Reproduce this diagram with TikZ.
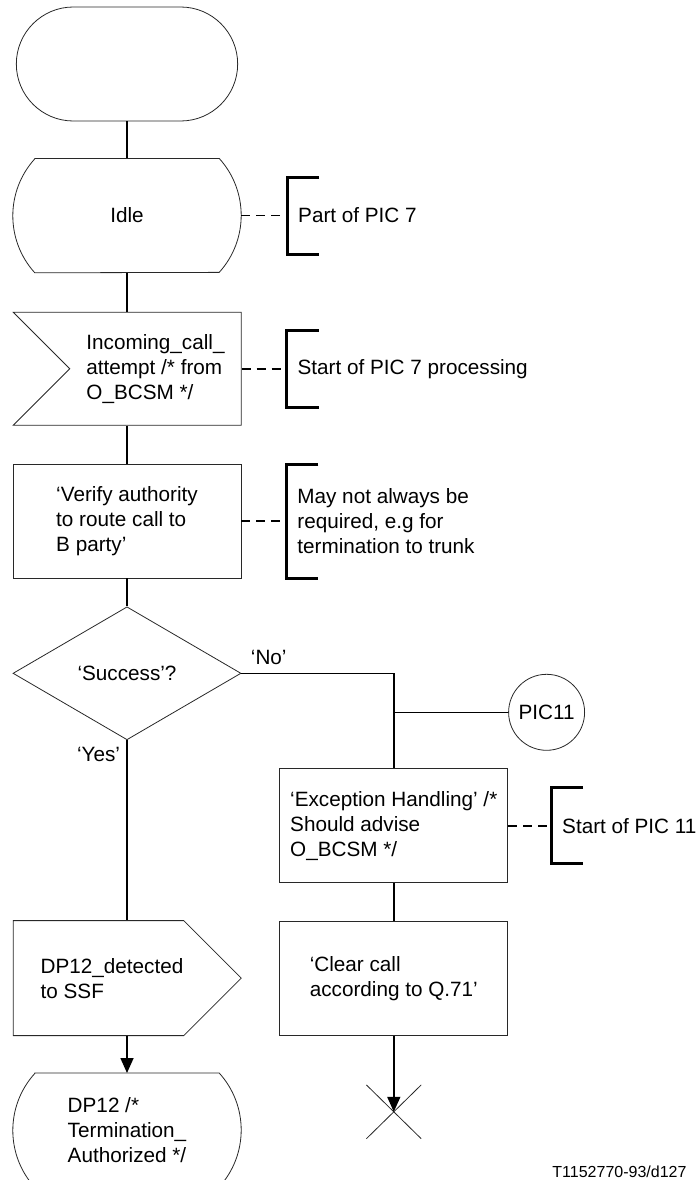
\documentclass[tikz,border=0pt]{standalone}
\usepackage{fontspec}
\setmainfont{Liberation Sans}
\usetikzlibrary{
  shapes.geometric,
  shapes.symbols,
  shapes.misc,
  arrows.meta,
  positioning
}
\definecolor{outlinecolor}{RGB}{40, 40, 40}
\definecolor{flowcolor}{RGB}{0, 0, 0}
\definecolor{labelcolor}{RGB}{0, 0, 0}
\tikzset{
sdltext/.style={
  font=\fontsize{20.7}{25}\selectfont,
  text=labelcolor
},
startbox/.style={
  rounded rectangle,
  draw=outlinecolor,
  line width=0.8pt,
  minimum width=228pt,
  minimum height=114pt
},
statebox/.style={
  minimum width=228pt,
  minimum height=114pt,
  align=left,
  sdltext,
  append after command={
    \pgfextra{
      \draw[draw=outlinecolor, line width=0.8pt]
        ([xshift=22pt]\tikzlastnode.north west) -- ([xshift=-22pt]\tikzlastnode.north east)
        arc[start angle=42.2, end angle=-42.2, radius=84.84pt]
        -- ([xshift=22pt]\tikzlastnode.south west)
        arc[start angle=222.2, end angle=137.8, radius=84.84pt] -- cycle;
    }
  }
},
inputbox/.style={
  signal,
  signal from=west,
  signal to=nowhere,
  draw=outlinecolor,
  line width=0.8pt,
  minimum width=228pt,
  minimum height=113pt,
  xshift=28.5pt,
  align=left,
  sdltext
},
outputbox/.style={
  signal,
  signal to=east,
  draw=outlinecolor,
  line width=0.8pt,
  minimum width=228pt,
  minimum height=115pt,
  xshift=-28.5pt,
  align=left,
  sdltext
},
taskbox/.style={
  rectangle,
  draw=outlinecolor,
  line width=0.8pt,
  minimum width=228pt,
  minimum height=114pt,
  align=left,
  sdltext
},
decisionbox/.style={
  diamond,
  draw=outlinecolor,
  line width=0.8pt,
  minimum width=228pt,
  minimum height=133pt,
  inner sep=0pt,
  sdltext
},
pagelink/.style={
  circle,
  draw=outlinecolor,
  line width=0.8pt,
  minimum size=76pt,
  inner sep=0pt,
  sdltext
},
stopmark/.style={
  cross out,
  draw=outlinecolor,
  line width=0.8pt,
  minimum width=54pt,
  minimum height=53pt
},
notetext/.style={
  align=left,
  inner xsep=11pt,
  outer sep=0pt,
  sdltext
},
flow/.style={
  draw=flowcolor,
  line width=1.6pt
},
flowarrow/.style={
  flow,
  -{Triangle[length=15pt,width=13pt]}
},
notelink/.style={
  draw=flowcolor,
  line width=1.6pt,
  dash pattern=on 9pt off 6pt
},
bracket/.style={
  draw=flowcolor,
  line width=3pt
}
}

\begin{document}
\begin{tikzpicture}[x=1pt, y=1pt]
  \useasboundingbox (0,0) rectangle (697,-1180);

  % Main column
  \node[startbox] (start) at (127,-64) {};
  \node[statebox, below=37pt of start] (idle) {Idle};
  \node[inputbox, below=39pt of idle] (incall) {Incoming\_call\_\\attempt /* from\\O\_BCSM */};
  \node[taskbox, below=38pt of incall.south -| idle.south] (verify) {‘Verify authority\\to route call to\\B party’};
  \node[decisionbox, below=28pt of verify] (success) {‘Success’?};
  \node[outputbox, below=180pt of success,
    label={[sdltext, align=left, xshift=13.5pt]center:{DP12\_detected\\to SSF}}] (dpout) {};
  \node[statebox, below=37pt of dpout.south -| success.south] (dpstate) {DP12 /*\\Termination\_\\Authorized */};

  % Exception branch
  \node[taskbox, below right=95pt and 38pt of success.east] (exception) {‘Exception Handling’ /*\\Should advise\\O\_BCSM */};
  \node[taskbox, below=38pt of exception] (clear) {‘Clear call\\according to Q.71’};
  \node[pagelink, anchor=west] (pic11) at ([yshift=56pt]exception.north east) {PIC11};
  \node[stopmark, below=49pt of clear] (stop) {};

  % Comments
  \node[notetext, minimum height=77pt, right=46pt of idle] (noteidle) {Part of PIC 7};
  \node[notetext, minimum height=77pt, right=45pt of incall] (notein) {Start of PIC 7 processing};
  \node[notetext, minimum height=114pt, right=45pt of verify] (noteverify) {May not always be\\required, e.g for\\termination to trunk};
  \node[notetext, minimum height=76pt, right=43pt of exception] (noteexc) {Start of PIC 11};

  % Branch labels
  \node[sdltext, anchor=west] (nolabel) at ([xshift=6pt, yshift=15.5pt]success.east) {‘No’};
  \node[sdltext, anchor=east] (yeslabel) at ([xshift=-3.5pt, yshift=-14pt]success.south) {‘Yes’};
  \node[font=\fontsize{16}{19}\selectfont, anchor=east] (figid) at (690,-1172) {T1152770-93/d127};

  % Flow lines
  \draw[flow] (start) -- (idle);
  \draw[flow] (idle.south) -- (idle.south |- incall.north);
  \draw[flow] (verify.north |- incall.south) -- (verify.north);
  \draw[flow] (verify) -- (success);
  \draw[flow] (success.east) -| (exception.north);
  \draw[flow] (pic11.west) -- (pic11.west -| exception.north);
  \draw[flow] (success.south) -- (success.south |- dpout.north);
  \draw[flowarrow] (dpstate.north |- dpout.south) -- (dpstate.north);
  \draw[flow] (exception) -- (clear);
  \draw[flowarrow] (clear) -- (stop.center);

  % Comment links and brackets
  \draw[notelink] (idle.east) -- (noteidle.west);
  \draw[notelink] (incall.east) -- (notein.west);
  \draw[notelink] (verify.east) -- (noteverify.west);
  \draw[notelink] (exception.east) -- (noteexc.west);
  \foreach \note in {noteidle, notein, noteverify, noteexc}
    \draw[bracket] ([xshift=32pt]\note.north west) -- (\note.north west)
      -- (\note.south west) -- ([xshift=32pt]\note.south west);
\end{tikzpicture}
\end{document}
